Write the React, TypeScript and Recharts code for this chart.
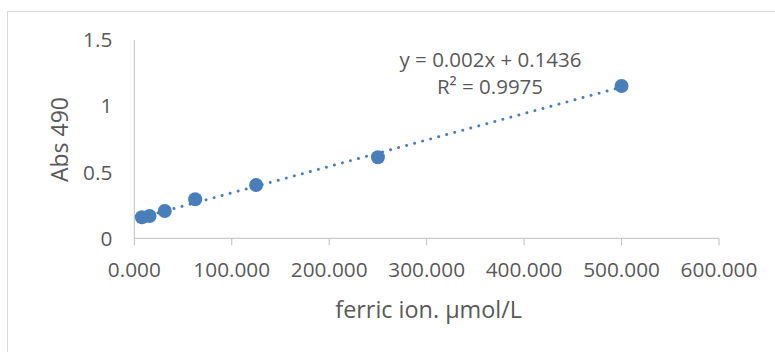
import React from "react";
import {
  ScatterChart,
  Scatter,
  XAxis,
  YAxis,
  Customized,
} from "recharts";

// concentrations (µmol/L) and absorbance
const concentrations = [7.8125, 15.625, 31.25, 62.5, 125, 250, 500];
const absorbance = [0.159, 0.169, 0.207, 0.295, 0.403, 0.613, 1.152];

// linear trendline ends: y = 0.002x + 0.1436
const trendX = [7.8125, 500];
const trendY = [0.1592, 1.1436];

const xTicks = [0, 100, 200, 300, 400, 500, 600];
const yTicks = [0, 0.5, 1, 1.5];

const equationText = "y = 0.002x + 0.1436";
const r2Text = "R² = 0.9975";

const points = concentrations.map((x, i) => ({ x, y: absorbance[i] }));
const trend = trendX.map((x, i) => ({ x, y: trendY[i] }));

const BLUE = "#4A7EBB";
const GRAY_TEXT = "#595959";
const AXIS = "#BFBFBF";
const FONT = "'Open Sans', sans-serif";

const Dot = (props: any) => (
  <circle cx={props.cx} cy={props.cy} r={7} fill={BLUE} />
);

const Equation = () => (
  <g fontFamily={FONT} fontSize={20.5} fill={GRAY_TEXT} textAnchor="middle">
    <text x={490.5} y={66.7}>{equationText}</text>
    <text x={490} y={94.3}>{r2Text}</text>
  </g>
);

export default function App() {
  return (
    <div
      style={{
        position: "absolute",
        left: 0,
        top: 0,
        width: 775,
        height: 352,
        overflow: "hidden",
        background: "#fff",
      }}
    >
      <div
        style={{
          position: "absolute",
          left: 7,
          top: 11,
          width: 900,
          height: 500,
          border: "1px solid #D9D9D9",
        }}
      />
      <div style={{ position: "absolute", left: 0, top: 0 }}>
        <ScatterChart
          width={775}
          height={352}
          margin={{ top: 40, right: 56, bottom: 0, left: 0 }}
        >
          <XAxis
            type="number"
            dataKey="x"
            domain={[0, 600]}
            ticks={xTicks}
            tickFormatter={(v: number) => v.toFixed(3)}
            height={113.7}
            tickSize={7}
            tickMargin={17}
            axisLine={{ stroke: AXIS }}
            tickLine={{ stroke: AXIS }}
            tick={{ fill: GRAY_TEXT, fontSize: 20.8, fontFamily: FONT }}
            interval={0}
            label={(p: any) => {
              const vb = p.viewBox;
              return (
                <text
                  x={vb.x + vb.width / 2 + 2}
                  y={318}
                  textAnchor="middle"
                  fontFamily={FONT}
                  fontSize={23.4}
                  fill={GRAY_TEXT}
                >
                  ferric ion. µmol/L
                </text>
              );
            }}
          />
          <YAxis
            type="number"
            dataKey="y"
            domain={[0, 1.5]}
            ticks={yTicks}
            width={134.3}
            tickSize={0}
            tickMargin={22}
            tickLine={false}
            axisLine={{ stroke: AXIS }}
            tick={{ fill: GRAY_TEXT, fontSize: 20.8, fontFamily: FONT }}
            interval={0}
            label={() => (
              <text
                x={68}
                y={139.5}
                transform="rotate(-90 68 139.5)"
                textAnchor="middle"
                fontFamily={FONT}
                fontSize={23}
                fill={GRAY_TEXT}
              >
                Abs 490
              </text>
            )}
          />
          <Scatter
            data={trend}
            line={{
              stroke: BLUE,
              strokeWidth: 3,
              strokeDasharray: "0.01 8.3",
              strokeLinecap: "round",
            }}
            shape={() => null}
            isAnimationActive={false}
          />
          <Scatter
            data={points}
            shape={Dot}
            isAnimationActive={false}
          />
          <Customized component={Equation} />
        </ScatterChart>
      </div>
    </div>
  );
}
